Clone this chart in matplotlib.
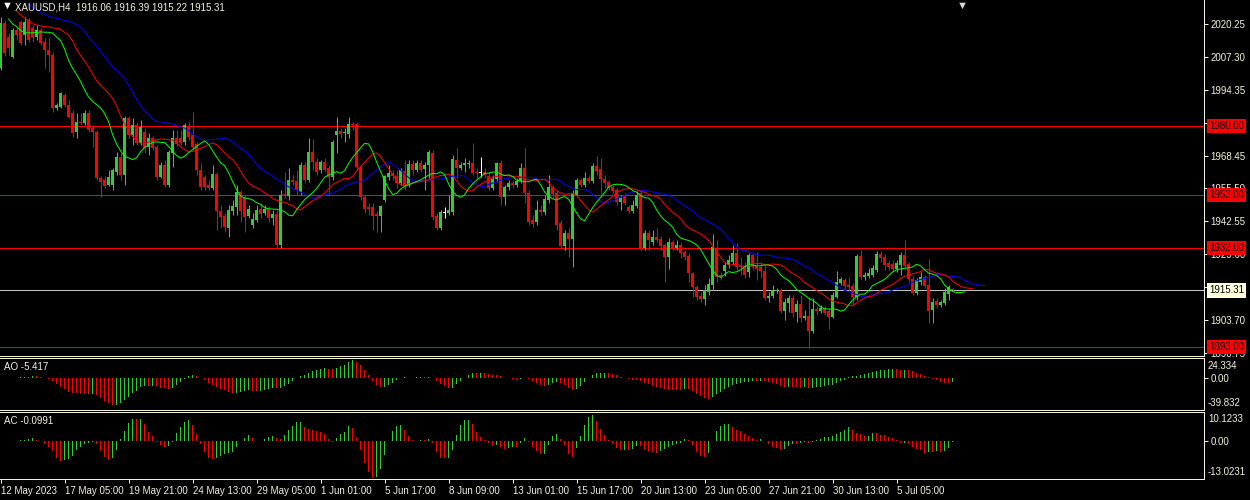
import numpy as np
import pandas as pd
import matplotlib
matplotlib.use("Agg")
import matplotlib.pyplot as plt
from matplotlib.transforms import blended_transform_factory

plt.rcParams['font.family'] = ['Liberation Sans', 'DejaVu Sans']
plt.rcParams['font.size'] = 7

# ---------------- data (XAUUSD H4) ----------------
opens = [
    2002.9, 2020.6, 2015.1, 2007.3, 2017.9, 2021.0, 2015.9, 2021.8, 2018.7, 2015.1,
    2017.9, 2013.2, 2010.0, 2008.0, 1987.2, 1987.6, 1992.3, 1988.4, 1985.2, 1977.7,
    1981.7, 1981.3, 1985.2, 1979.3, 1977.7, 1959.6, 1958.8, 1956.9, 1956.9, 1962.0,
    1967.9, 1960.8, 1983.2, 1976.6, 1980.5, 1973.4, 1977.7, 1971.8, 1975.4, 1971.8,
    1960.0, 1964.7, 1956.9, 1969.5, 1975.4, 1975.4, 1973.8, 1979.7, 1976.6, 1973.0,
    1962.8, 1960.0, 1956.9, 1955.7, 1961.2, 1946.6, 1944.7, 1939.9, 1946.6, 1948.2,
    1954.1, 1952.1, 1944.7, 1941.1, 1942.9, 1947.4, 1945.8, 1947.4, 1943.9, 1945.4,
    1933.2, 1953.3, 1952.5, 1958.8, 1958.4, 1954.1, 1964.7, 1958.8, 1969.9, 1965.9,
    1962.8, 1965.9, 1963.6, 1960.0, 1976.6, 1978.1, 1977.3, 1976.9, 1980.9, 1980.9,
    1963.9, 1952.1, 1948.2, 1948.2, 1945.4, 1944.7, 1951.0, 1960.0, 1961.6, 1960.4,
    1957.7, 1962.4, 1956.9, 1965.1, 1962.8, 1965.5, 1963.2, 1964.7, 1969.5, 1944.7,
    1939.9, 1945.8, 1945.8, 1946.2, 1966.7, 1963.6, 1964.7, 1965.1, 1965.5, 1962.0,
    1961.6, 1962.0, 1960.4, 1955.7, 1959.2, 1965.5, 1952.1, 1956.1, 1957.7, 1956.9,
    1958.4, 1963.6, 1953.7, 1943.1, 1942.3, 1947.0, 1946.2, 1951.0, 1956.1, 1953.7,
    1941.9, 1932.8, 1938.0, 1935.6, 1952.9, 1958.8, 1956.9, 1959.6, 1958.4, 1964.3,
    1963.2, 1959.2, 1958.0, 1956.1, 1954.9, 1950.2, 1952.5, 1948.2, 1946.6, 1948.6,
    1953.7, 1932.1, 1938.0, 1934.4, 1936.4, 1935.6, 1933.2, 1928.5, 1934.4, 1932.1,
    1933.2, 1930.5, 1928.9, 1922.2, 1916.7, 1913.2, 1912.0, 1914.7, 1917.5, 1932.1,
    1921.4, 1923.0, 1925.4, 1926.5, 1930.1, 1925.0, 1925.0, 1922.6, 1929.3, 1925.0,
    1924.6, 1923.0, 1912.4, 1913.2, 1915.1, 1915.5, 1907.3, 1910.4, 1912.4, 1906.9,
    1910.0, 1904.5, 1905.3, 1899.4, 1908.0, 1907.3, 1908.4, 1907.3, 1904.9, 1912.8,
    1918.3, 1919.5, 1917.5, 1917.1, 1912.8, 1928.9, 1920.6, 1921.0, 1921.4, 1923.4,
    1929.7, 1928.5, 1926.2, 1925.8, 1923.8, 1925.4, 1929.3, 1925.8, 1919.9, 1914.3,
    1918.7, 1920.6, 1917.5, 1907.7, 1911.2, 1909.6, 1910.4, 1913.9, 1916.06,
]
closes = [
    2020.6, 2008.8, 2010.8, 2017.9, 2015.9, 2012.8, 2021.0, 2014.0, 2015.1, 2017.9,
    2012.8, 2010.0, 2008.0, 1987.2, 1988.4, 1993.1, 1988.4, 1983.6, 1977.3, 1981.7,
    1981.3, 1985.2, 1978.5, 1977.7, 1959.6, 1958.0, 1956.5, 1960.0, 1962.8, 1967.9,
    1960.8, 1983.2, 1976.6, 1980.5, 1973.4, 1979.7, 1971.4, 1975.4, 1971.4, 1960.0,
    1964.7, 1956.9, 1969.9, 1975.4, 1973.0, 1973.4, 1980.5, 1975.8, 1971.8, 1962.8,
    1956.1, 1956.1, 1955.7, 1961.2, 1946.6, 1944.3, 1940.3, 1947.0, 1948.6, 1954.1,
    1946.6, 1944.3, 1947.4, 1943.5, 1947.0, 1945.4, 1947.4, 1943.9, 1945.4, 1933.2,
    1952.9, 1952.5, 1958.8, 1958.0, 1954.9, 1964.7, 1958.8, 1969.9, 1965.9, 1962.0,
    1965.9, 1962.8, 1960.0, 1973.8, 1978.1, 1976.9, 1977.7, 1980.9, 1980.5, 1963.9,
    1952.1, 1947.4, 1947.4, 1944.7, 1944.7, 1948.6, 1960.4, 1961.6, 1960.4, 1957.7,
    1962.8, 1956.9, 1965.1, 1962.8, 1965.5, 1962.8, 1964.7, 1969.9, 1944.3, 1939.9,
    1946.2, 1945.8, 1947.0, 1967.1, 1963.6, 1964.7, 1965.5, 1965.5, 1961.6, 1961.6,
    1961.6, 1960.8, 1955.7, 1959.2, 1965.5, 1952.1, 1956.1, 1957.7, 1956.9, 1958.4,
    1963.6, 1953.7, 1942.3, 1941.5, 1947.0, 1946.2, 1951.4, 1956.1, 1953.3, 1941.1,
    1932.8, 1938.0, 1935.6, 1953.7, 1958.8, 1956.9, 1959.6, 1958.4, 1964.3, 1962.4,
    1959.2, 1957.7, 1955.7, 1954.5, 1950.2, 1952.1, 1949.8, 1946.6, 1949.0, 1952.9,
    1932.1, 1938.0, 1935.2, 1936.4, 1935.2, 1932.8, 1928.5, 1934.4, 1932.1, 1933.2,
    1930.1, 1928.5, 1922.2, 1916.7, 1912.8, 1912.0, 1915.5, 1917.9, 1932.5, 1920.6,
    1920.6, 1925.4, 1927.3, 1930.1, 1924.6, 1924.6, 1921.4, 1929.3, 1924.6, 1923.8,
    1923.0, 1912.4, 1913.2, 1915.5, 1915.5, 1907.3, 1910.8, 1912.4, 1906.5, 1910.0,
    1904.5, 1905.3, 1899.4, 1908.0, 1907.3, 1908.4, 1906.5, 1904.9, 1913.5, 1918.7,
    1919.9, 1917.1, 1916.7, 1912.8, 1928.9, 1920.6, 1921.4, 1922.2, 1924.2, 1929.7,
    1928.1, 1925.4, 1924.6, 1923.8, 1926.2, 1929.3, 1925.0, 1919.9, 1914.3, 1919.5,
    1920.6, 1917.1, 1907.3, 1910.8, 1909.6, 1910.8, 1914.7, 1916.7, 1915.31,
]
highs = [
    2023.0, 2021.8, 2016.7, 2018.7, 2019.1, 2021.8, 2023.0, 2022.6, 2019.9, 2019.9,
    2018.7, 2014.7, 2014.7, 2009.2, 1989.1, 1993.5, 1993.1, 1990.3, 1986.4, 1985.2,
    1985.2, 1986.4, 1986.4, 1980.5, 1978.5, 1960.4, 1960.4, 1962.8, 1963.6, 1969.9,
    1969.5, 1984.0, 1984.0, 1983.2, 1981.7, 1982.5, 1979.3, 1977.3, 1976.2, 1972.6,
    1965.9, 1966.7, 1970.6, 1978.5, 1978.5, 1978.5, 1981.3, 1981.7, 1985.6, 1973.8,
    1965.5, 1960.8, 1958.8, 1964.7, 1962.0, 1949.0, 1945.8, 1949.0, 1951.0, 1956.9,
    1954.9, 1952.9, 1949.0, 1945.8, 1949.0, 1949.8, 1949.0, 1948.6, 1947.0, 1947.0,
    1954.9, 1962.0, 1963.6, 1960.8, 1962.8, 1965.9, 1965.9, 1975.4, 1975.0, 1967.5,
    1966.7, 1967.5, 1964.7, 1974.6, 1983.6, 1979.3, 1979.3, 1983.6, 1981.7, 1981.7,
    1964.7, 1952.9, 1949.8, 1949.8, 1946.6, 1949.0, 1960.8, 1964.7, 1962.8, 1962.8,
    1963.6, 1966.7, 1966.7, 1966.7, 1966.7, 1966.7, 1965.9, 1970.6, 1970.6, 1945.8,
    1947.0, 1948.2, 1952.9, 1968.7, 1971.4, 1965.9, 1967.5, 1966.7, 1973.4, 1963.6,
    1967.9, 1963.6, 1962.0, 1960.8, 1965.9, 1966.7, 1956.9, 1958.8, 1958.8, 1959.6,
    1965.5, 1971.4, 1954.9, 1945.1, 1951.0, 1949.0, 1952.9, 1960.8, 1956.9, 1954.9,
    1943.1, 1939.1, 1939.9, 1954.9, 1959.6, 1959.6, 1962.0, 1960.8, 1965.5, 1968.3,
    1967.5, 1960.8, 1958.8, 1956.9, 1955.7, 1952.9, 1953.7, 1949.0, 1951.0, 1954.9,
    1954.9, 1939.1, 1939.1, 1939.1, 1939.9, 1936.8, 1934.0, 1936.0, 1935.2, 1935.2,
    1934.4, 1931.3, 1930.1, 1922.6, 1917.5, 1914.7, 1917.5, 1920.3, 1937.6, 1935.2,
    1922.6, 1926.5, 1929.3, 1933.2, 1934.0, 1928.5, 1926.5, 1930.1, 1930.1, 1930.5,
    1926.5, 1925.4, 1914.7, 1917.5, 1916.3, 1916.3, 1912.4, 1913.5, 1913.5, 1911.6,
    1913.5, 1907.7, 1912.4, 1912.4, 1909.2, 1909.6, 1909.2, 1908.4, 1914.7, 1923.0,
    1920.6, 1920.3, 1920.6, 1918.3, 1929.7, 1931.3, 1922.6, 1924.2, 1925.4, 1930.9,
    1930.9, 1929.7, 1927.3, 1927.3, 1927.3, 1930.5, 1935.2, 1926.5, 1921.0, 1920.3,
    1922.6, 1921.4, 1927.7, 1912.4, 1912.4, 1911.6, 1916.3, 1917.5, 1916.39,
]
lows = [
    2002.1, 2007.7, 2008.0, 2006.9, 2014.0, 2012.0, 2012.0, 2013.2, 2013.2, 2014.0,
    2012.0, 2002.9, 2001.4, 1985.6, 1986.4, 1987.2, 1987.6, 1983.2, 1975.8, 1975.4,
    1980.5, 1980.5, 1977.7, 1971.8, 1958.8, 1952.1, 1955.7, 1956.5, 1954.9, 1960.8,
    1958.8, 1956.9, 1975.4, 1972.6, 1972.6, 1972.6, 1969.5, 1968.7, 1970.6, 1958.8,
    1959.6, 1956.1, 1956.1, 1964.0, 1972.2, 1972.6, 1972.6, 1974.6, 1970.6, 1960.8,
    1954.9, 1954.9, 1954.9, 1954.9, 1939.1, 1939.9, 1938.4, 1936.4, 1945.1, 1945.1,
    1942.3, 1938.4, 1943.9, 1939.9, 1942.3, 1943.9, 1945.1, 1942.3, 1941.1, 1932.1,
    1932.1, 1951.7, 1951.0, 1956.9, 1952.9, 1952.9, 1957.7, 1958.0, 1962.8, 1960.8,
    1961.6, 1962.0, 1952.9, 1958.8, 1969.5, 1975.4, 1973.8, 1975.4, 1978.5, 1962.8,
    1951.0, 1945.8, 1945.1, 1939.1, 1938.4, 1938.4, 1950.2, 1958.8, 1958.8, 1955.7,
    1956.9, 1954.9, 1956.1, 1960.8, 1962.0, 1962.0, 1954.9, 1959.6, 1943.1, 1939.1,
    1939.1, 1943.9, 1945.1, 1945.1, 1959.6, 1962.8, 1962.0, 1963.6, 1960.8, 1959.6,
    1960.0, 1959.6, 1954.9, 1954.9, 1958.0, 1949.0, 1949.0, 1954.9, 1955.7, 1956.1,
    1957.7, 1949.8, 1941.1, 1940.3, 1941.1, 1945.1, 1945.1, 1949.8, 1951.7, 1939.1,
    1932.1, 1931.3, 1928.5, 1924.6, 1952.1, 1956.1, 1956.1, 1957.7, 1957.7, 1960.8,
    1953.3, 1955.7, 1954.9, 1953.7, 1949.0, 1947.0, 1949.0, 1945.8, 1945.8, 1947.8,
    1931.3, 1931.3, 1931.3, 1933.2, 1934.4, 1931.3, 1918.7, 1923.8, 1931.3, 1931.3,
    1928.1, 1927.3, 1918.7, 1912.8, 1911.6, 1910.8, 1909.6, 1913.5, 1915.5, 1918.7,
    1919.5, 1921.0, 1924.2, 1925.4, 1923.4, 1921.4, 1920.3, 1920.6, 1923.4, 1919.5,
    1920.3, 1911.6, 1910.8, 1912.4, 1914.3, 1906.5, 1903.7, 1906.9, 1904.9, 1902.9,
    1902.9, 1903.7, 1892.7, 1898.6, 1905.7, 1906.5, 1905.7, 1900.2, 1904.5, 1912.4,
    1917.5, 1915.5, 1915.5, 1909.6, 1911.6, 1919.5, 1919.5, 1920.3, 1920.6, 1922.6,
    1926.5, 1923.4, 1923.4, 1923.0, 1922.6, 1921.4, 1924.2, 1918.7, 1913.5, 1913.5,
    1917.5, 1916.3, 1902.5, 1902.5, 1908.4, 1908.8, 1909.6, 1911.6, 1915.22,
]

time_labels = ["12 May 2023", "17 May 05:00", "19 May 21:00", "24 May 13:00",
               "29 May 05:00", "1 Jun 01:00", "5 Jun 17:00", "8 Jun 09:00",
               "13 Jun 01:00", "15 Jun 17:00", "20 Jun 13:00", "23 Jun 05:00",
               "27 Jun 21:00", "30 Jun 13:00", "5 Jul 05:00"]
time_label_bars = [0, 16, 32, 48, 64, 80, 96, 112, 128, 144, 160, 176, 192, 208, 224]

price_ticks = [2020.25, 2007.30, 1994.35, 1981.40, 1968.45, 1955.50,
               1942.55, 1929.60, 1916.65, 1903.70, 1890.75]
level_lines = [1980.00, 1953.00, 1932.00, 1893.00]
current_price = 1915.31
header = "XAUUSD,H4  1916.06 1916.39 1915.22 1915.31"

# Alligator (jaw, teeth, lips): period, shift, starting level
jaw_period, jaw_shift, jaw_seed = 13, 8, 2028.0
teeth_period, teeth_shift, teeth_seed = 8, 5, 2025.4
lips_period, lips_shift, lips_seed = 5, 3, 2022.2

ao_range = (-39.832, 24.334)
ac_range = (-13.0231, 10.1233)
ao_title = "AO -5.417"
ac_title = "AC -0.0991"

# ---------------- styling ----------------
BG = "#000000"
FG = "#F2F2DC"
UP = "#32CD32"
DN = "#FF0000"

W, H = 1250, 500
fig = plt.figure(figsize=(W / 100, H / 100), dpi=100, facecolor=BG)
PX = 0.72  # one pixel in points

axw = 1204 / W
ax = fig.add_axes([0, 1 - 356 / H, axw, 356 / H], facecolor=BG)
ax_ao = fig.add_axes([0, 1 - 410 / H, axw, 52 / H], facecolor=BG)
ax_ac = fig.add_axes([0, 1 - 479 / H, axw, 67 / H], facecolor=BG)

o = np.array(opens); c = np.array(closes); h = np.array(highs); l = np.array(lows)
n = len(c)
x = np.arange(n)

colors = np.where(c > o, UP, np.where(c < o, DN, "#FFFFFF"))
# wicks
ax.vlines(x, l, h, colors=colors, linewidth=PX, zorder=3)
# bodies
body_bottom = np.minimum(o, c)
body_h = np.maximum(np.abs(c - o), 0.4)
ax.bar(x, body_h, bottom=body_bottom, width=0.75, color=colors, linewidth=0,
       zorder=4, antialiased=False)

# Alligator (SMMA of median price, shifted forward)
median = (h + l) / 2.0
def smma(series, period, seed):
    out = []
    prev = seed
    for v in series:
        prev = (prev * (period - 1) + v) / period
        out.append(prev)
    return np.array([seed] + out)

for period, shift, seed, col in [(jaw_period, jaw_shift, jaw_seed, "#0000FF"),
                                 (teeth_period, teeth_shift, teeth_seed, "#FF0000"),
                                 (lips_period, lips_shift, lips_seed, "#00FF00")]:
    s = smma(median, period, seed)
    xs = np.arange(-1, n) + shift
    ax.plot(xs, s, color=col, linewidth=PX, zorder=5)

for lv in level_lines:
    ax.axhline(lv, color="#FF0000", linewidth=PX, zorder=2)
ax.axhline(current_price, color="#C0C0C0", linewidth=PX, zorder=2)

xlim = (-0.15, 300.85)
ax.set_xlim(*xlim)
ax.set_ylim(1889.5, 2029.7)

# ---- AO / AC ----
med_s = pd.Series(median)
ao = med_s.rolling(5, min_periods=1).mean() - med_s.rolling(34, min_periods=1).mean()
ac = ao - ao.rolling(5, min_periods=1).mean()

def hist(axis, vals):
    v = vals.values
    up = np.r_[False, v[1:] > v[:-1]]
    cols = [UP if u else DN for u in up]
    axis.bar(x, v, width=0.3, color=cols, linewidth=0, antialiased=False)

hist(ax_ao, ao)
hist(ax_ac, ac)
ax_ao.set_ylim(*ao_range)
ax_ac.set_ylim(*ac_range)
ax_ao.set_xlim(*xlim)
ax_ac.set_xlim(*xlim)

# ---- axes decoration ----
for a in (ax, ax_ao, ax_ac):
    for sp in a.spines.values():
        sp.set_color(FG)
        sp.set_linewidth(PX)
    a.spines["left"].set_visible(False)
    a.yaxis.tick_right()
    a.tick_params(axis="y", colors=FG, labelcolor=FG, length=3, width=PX, pad=1.5,
                  labelsize=7)
    a.tick_params(axis="x", bottom=False, labelbottom=False)
ax.spines["top"].set_visible(False)

ax.set_yticks(price_ticks)
ax.set_yticklabels([f"{t:.2f}" for t in price_ticks])
ax_ao.set_yticks([0.0]); ax_ao.set_yticklabels(["0.00"])
ax_ac.set_yticks([0.0]); ax_ac.set_yticklabels(["0.00"])

ax_ac.set_xticks(time_label_bars)
ax_ac.set_xticklabels(time_labels, ha="left")
ax_ac.tick_params(axis="x", bottom=True, labelbottom=True, colors=FG, labelcolor=FG,
                  length=3, width=PX, pad=2, labelsize=7)

# range labels on indicator panels
lx = 1208 / W
fig.text(lx, 1 - 366 / H, f"{ao_range[1]:.3f}", color=FG, fontsize=7, va="center", ha="left")
fig.text(lx, 1 - 403 / H, f"{ao_range[0]:.3f}", color=FG, fontsize=7, va="center", ha="left")
fig.text(lx, 1 - 419 / H, f"{ac_range[1]:.4f}", color=FG, fontsize=7, va="center", ha="left")
fig.text(lx, 1 - 472 / H, f"{ac_range[0]:.4f}", color=FG, fontsize=7, va="center", ha="left")

# price boxes
tr = blended_transform_factory(ax.transAxes, ax.transData)
bx = 1209 / 1204
for lv in level_lines:
    ax.text(bx, lv, f"{lv:.2f}", transform=tr, ha="left", va="center", color="#000000",
            fontsize=7, clip_on=False, zorder=10,
            bbox=dict(boxstyle="square,pad=0.22", facecolor="#FF0000", edgecolor="none"))
ax.text(bx, current_price, f"{current_price:.2f}", transform=tr, ha="left", va="center",
        color="#000000", fontsize=7, clip_on=False, zorder=10,
        bbox=dict(boxstyle="square,pad=0.22", facecolor="#FFFFE0", edgecolor="none"))

# header texts
fig.text(2 / W, 1 - 6 / H, "▼", color="#FFFFFF", fontsize=8, va="center", ha="left")
fig.text(15 / W, 1 - 7 / H, header, color=FG, fontsize=7, va="center", ha="left")
fig.text(962 / W, 1 - 0.5 / H, "▼", color="#D8D8D8", fontsize=8, va="top", ha="center")
fig.text(4 / W, 1 - 367 / H, ao_title, color=FG, fontsize=7, va="center", ha="left")
fig.text(4 / W, 1 - 421 / H, ac_title, color=FG, fontsize=7, va="center", ha="left")

fig.savefig("out.png", dpi=100, facecolor=BG)
